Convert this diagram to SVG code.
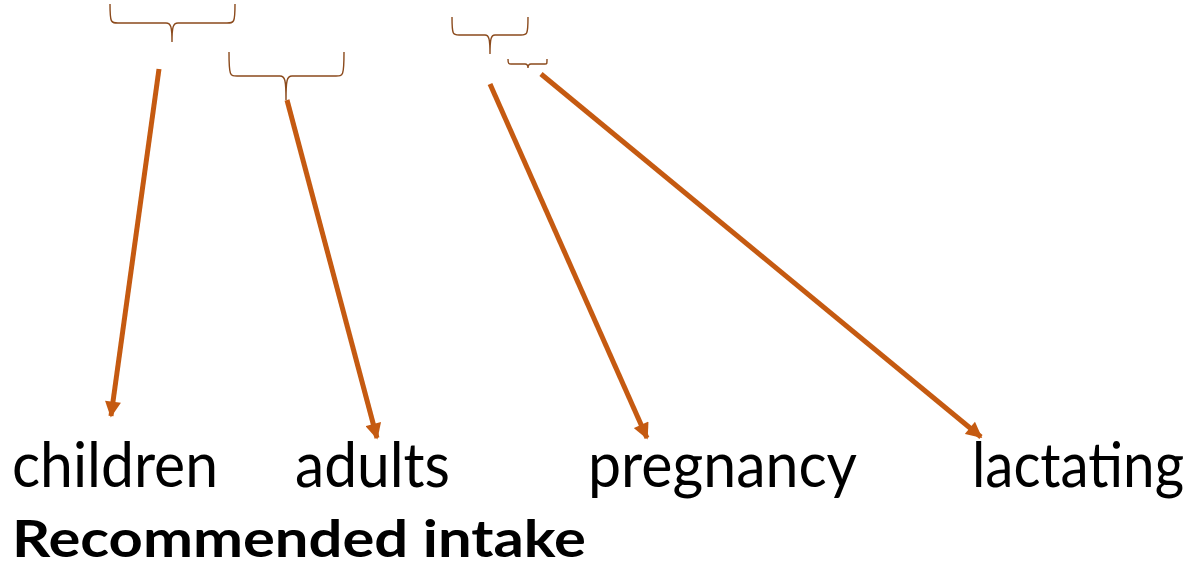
<svg xmlns="http://www.w3.org/2000/svg" width="1198" height="570" viewBox="0 0 1198 570">
  <style>
    .brace { fill: none; stroke: #8B4A1C; stroke-width: 1.4; }
    .arrow { fill: none; stroke: #C55A11; stroke-width: 5; marker-end: url(#head); }
    .label { font-family: Lato, "Liberation Sans", sans-serif; font-size: 62px; fill: #000; }
    .title { font-family: Lato, "Liberation Sans", sans-serif; font-size: 51px; font-weight: bold; fill: #000; }
  </style>
  <defs>
    <marker id="head" viewBox="0 0 10 10" refX="9" refY="5" markerWidth="3.4" markerHeight="3.2" orient="auto" markerUnits="strokeWidth">
      <path d="M0,0 L10,5 L0,10 Z" fill="#C55A11"/>
    </marker>
  </defs>

  <!-- braces -->
  <g id="brace-children">
    <path class="brace" d="M110,4 C110,23 111,23 118,23 L166,23 C171,23 172,27 172,42 C172,27 173,23 178,23 L227,23 C234,23 235,23 235,4"/>
  </g>
  <g id="brace-adults">
    <path class="brace" d="M229,52 C229,76 230,76 237,76 L280,76 C285,76 286,80 286,100 C286,80 287,76 292,76 L336,76 C343,76 344,76 344,52"/>
  </g>
  <g id="brace-pregnancy">
    <path class="brace" d="M452,17 C452,35 453,35 459,35 L485,35 C489,35 490,39 490,54 C490,39 491,35 495,35 L521,35 C527,35 528,35 528,17"/>
  </g>
  <g id="brace-lactating">
    <path class="brace" d="M508,59 C508,64 509,64 511,64 L525,64 C527,64 528,65 528,68 C528,65 529,64 531,64 L545,64 C547,64 547,64 547,59"/>
  </g>

  <!-- connectors -->
  <g id="connectors">
    <line class="arrow" x1="159" y1="69" x2="111" y2="416"/>
    <line class="arrow" x1="287" y1="100" x2="377" y2="438"/>
    <line class="arrow" x1="490" y1="84" x2="647" y2="438"/>
    <line class="arrow" x1="541" y1="74" x2="981" y2="437"/>
  </g>

  <!-- labels -->
  <g id="children"><text class="label" x="12" y="487" textLength="206" lengthAdjust="spacingAndGlyphs">children</text></g>
  <g id="adults"><text class="label" x="295" y="487" textLength="155" lengthAdjust="spacingAndGlyphs">adults</text></g>
  <g id="pregnancy"><text class="label" x="588" y="487" textLength="269" lengthAdjust="spacingAndGlyphs">pregnancy</text></g>
  <g id="lactating"><text class="label" x="972" y="487" font-size="58" textLength="212" lengthAdjust="spacingAndGlyphs">lactating</text></g>
  <g id="recommended-intake"><text class="title" x="12" y="557" textLength="574" lengthAdjust="spacingAndGlyphs">Recommended intake</text></g>
</svg>
